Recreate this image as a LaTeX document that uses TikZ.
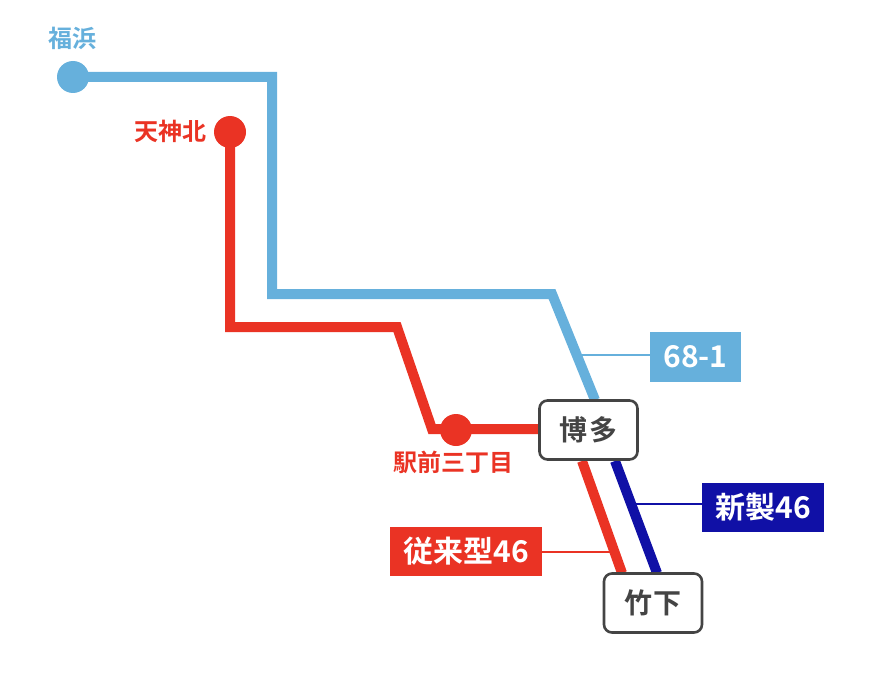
\documentclass[tikz,border=0pt]{standalone}
\usepackage{fontspec}
\usetikzlibrary{backgrounds}
\setmainfont{Noto Sans CJK JP}[BoldFont={Noto Sans CJK JP Bold}]
\definecolor{lblue}{RGB}{102,176,220}
\definecolor{rred}{RGB}{234,51,36}
\definecolor{dblue}{RGB}{16,16,166}
\definecolor{boxgray}{RGB}{68,68,68}
\begin{document}
\begin{tikzpicture}[x=1pt,y=-1pt,
  route/.style={line width=10pt,line join=miter},
  leader/.style={line width=2pt},
  stopdot/.style={circle,inner sep=0pt,minimum size=32pt},
  stname/.style={font=\bfseries\fontsize{24}{24}\selectfont,inner sep=0pt},
  hub/.style={draw=boxgray,line width=2.6pt,rounded corners=8pt,fill=white,minimum width=98pt,minimum height=59pt,inner sep=0pt,text=boxgray,font=\bfseries\fontsize{28}{28}\selectfont},
  tag/.style={text=white,inner sep=0pt,font=\bfseries\fontsize{30}{30}\selectfont}]
\useasboundingbox (0,0) rectangle (872,682);
% hubs
\node[hub] (hakata) at (588.5,430) {博\kern2pt多};
\node[hub] (take) at (653,603) {竹\kern2pt下};
% stations
\node[stopdot,fill=lblue] (fuku) at (73,77) {};
\node[stopdot,fill=rred] (tenjin) at (230,132) {};
\node[stopdot,fill=rred] (ekimae) at (456,430) {};
% corner coordinates
\coordinate (b1) at (272,77);
\coordinate (b2) at (272,294);
\coordinate (b3) at (552,294);
\coordinate (b4) at (595,400);
\coordinate (r1) at (230,327);
\coordinate (r2) at (397,327);
\coordinate (r3) at (432,429);
\coordinate (r4) at (540,429);
\coordinate (rh) at (582,461);
\coordinate (rt) at (622,573);
\coordinate (dh) at (615,461);
\coordinate (dt) at (657,573);
\coordinate (c681) at (576,355);
\coordinate (cnew) at (632,504);
\coordinate (cold) at (614,552);
% routes
\begin{scope}[on background layer]
\draw[route,lblue] (fuku.center) -- (b1) -- (b2) -- (b3) -- (b4);
\draw[route,rred] (tenjin.center) -- (r1) -- (r2) -- (r3) -- (r4);
\draw[route,rred] (rh) -- (rt);
\draw[route,dblue] (dh) -- (dt);
\end{scope}
% station names
\node[stname,text=lblue] (nfuku) at (72,38) {福浜};
\node[stname,text=rred,anchor=east] (ntenjin) at (207,131) {天神北};
\node[stname,text=rred] (nekimae) at (453,462) {駅前三丁目};
% tags
\node[tag,fill=lblue,minimum width=91pt,minimum height=50pt] (t681) at (695.5,357) {68-1};
\node[tag,fill=dblue,minimum width=122pt,minimum height=49pt] (tnew) at (763,507.5) {新製46};
\node[tag,fill=rred,minimum width=152pt,minimum height=49pt] (told) at (466,551.5) {従来型46};
\draw[leader,lblue] (c681) -- (c681 -| t681.west);
\draw[leader,dblue] (cnew) -- (cnew -| tnew.west);
\draw[leader,rred] (cold) -- (cold -| told.east);
\end{tikzpicture}
\end{document}
